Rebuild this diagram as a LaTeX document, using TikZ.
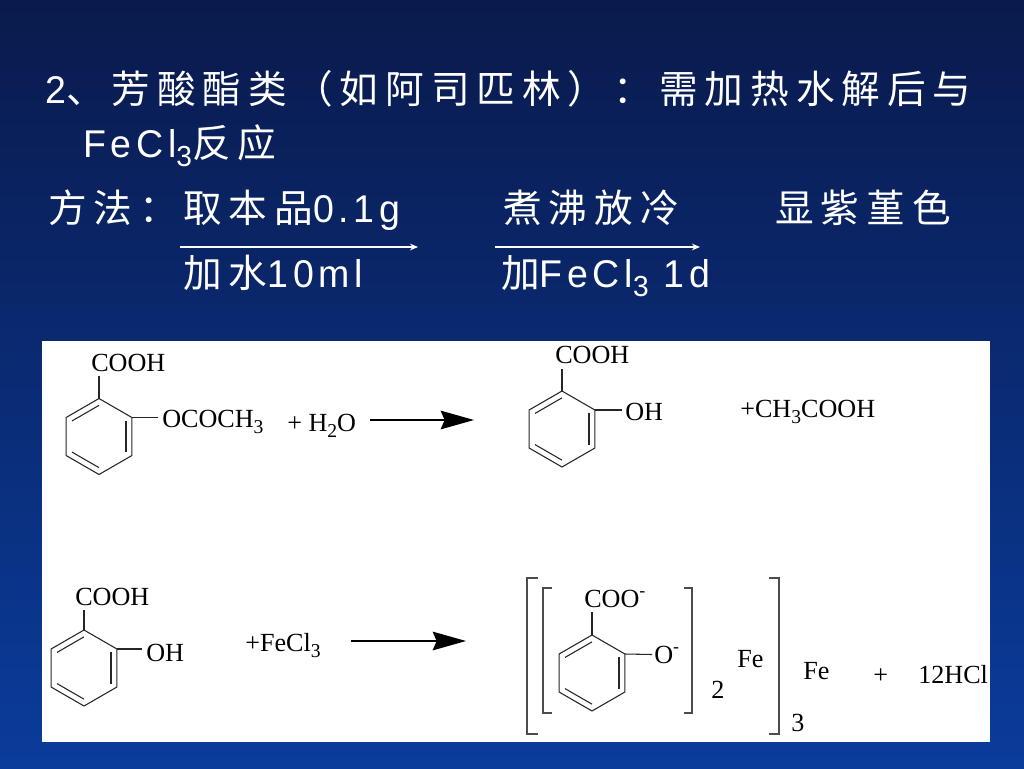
\documentclass[tikz,border=0pt]{standalone}
\usepackage{fontspec}
\usepackage{tikz}
\usetikzlibrary{arrows.meta,calc}
\setmainfont{Liberation Serif}
\newfontfamily\cjk{Noto Sans CJK SC}[LetterSpace=18]
\newfontfamily\cjktight{Noto Sans CJK SC}
\newfontfamily\latn{Liberation Sans}[FakeStretch=0.97,LetterSpace=12]
\definecolor{bgtop}{HTML}{0A1A4C}
\definecolor{bgbot}{HTML}{0A3C9C}
\newcommand{\dn}[1]{\raisebox{-.24em}{\scalebox{.75}{#1}}}
\newcommand{\upp}[1]{\raisebox{.42em}{\scalebox{.68}{#1}}}
% one benzene ring, top corner first
\newcommand{\ring}[3]{%
  \coordinate (#1) at (#2,#3);
  \foreach \i in {1,...,6} {
    \coordinate (#1-\i) at ({#2+38*cos(-150+60*\i)},{#3+38*sin(-150+60*\i)});
  }
  \draw[bond] (#1-1) -- (#1-2) -- (#1-3) -- (#1-4) -- (#1-5) -- (#1-6) -- cycle;
  \draw[bond] ($(#1)!.82!(#1-2)$) -- ($(#1)!.82!(#1-3)$);
  \draw[bond] ($(#1)!.82!(#1-4)$) -- ($(#1)!.82!(#1-5)$);
  \draw[bond] ($(#1)!.82!(#1-6)$) -- ($(#1)!.82!(#1-1)$);
}

\begin{document}
\begin{tikzpicture}[x=0.75pt, y=-0.75pt,
    title/.style={anchor=base west, inner sep=0pt, text=white, font=\fontsize{29}{32}\selectfont\cjk},
    chem/.style={anchor=base west, inner sep=0pt, text=black, font=\fontsize{19.6}{22}\selectfont},
    bond/.style={line width=0.8pt, black!85},
    brak/.style={line width=0.9pt, black!70},
    rxn/.style={line width=1pt, black, -{Stealth[length=25pt,width=14pt,inset=3pt]}},
    thin arrow/.style={line width=0.8pt, white, -{Stealth[length=6pt,width=5pt]}}]
  % background
  \shade[top color=bgtop, bottom color=bgbot] (0,0) rectangle (1024,768);
  \fill[white] (42,341) rectangle (990,742);
  \useasboundingbox (0,0) rectangle (1024,768);

  % title lines
  \node[title] (line1a) at (45,103) {{\latn 2}、芳酸酯类（如阿司匹林）：需加热水解后与};
  \node[title] (line2a) at (83,157) {{\latn FeCl\dn{3}}反应};
  \node[title] (method) at (48,222) {方法：};
  \node[title] (step1) at (183,222) {取本品{\latn 0.1g}};
  \node[title] (step2) at (503,222) {煮沸放冷};
  \node[title] (result) at (775,222) {显紫堇色};
  \node[title] (under1) at (183,287) {加水{\latn 10ml}};
  \node[title] (under2) at (501,287) {{\cjktight 加}{\latn FeCl\dn{3} 1d}};

  % arrows under the steps
  \coordinate (s1a) at (180,247);
  \coordinate (s1b) at (418,247);
  \coordinate (s2a) at (495,247);
  \coordinate (s2b) at (700,247);
  \draw[thin arrow] (s1a) -- (s1b);
  \draw[thin arrow] (s2a) -- (s2b);

  % aspirin
  \ring{aspirin}{99}{436.5}
  \node[chem] (aspcooh) at (91,371) {COOH};
  \node[chem] (aspoco) at (162,427) {OCOCH\dn{3}};
  \coordinate (aspup) at (99,376);
  \coordinate (aspside) at (158,417.5);
  \draw[bond] (aspirin-1) -- (aspup);
  \draw[bond] (aspirin-2) -- (aspside);
  \node[chem] (water) at (287,431) {+ H\dn{2}O};
  \coordinate (r1a) at (370,420);
  \coordinate (r1b) at (474,420);
  \draw[rxn] (r1a) -- (r1b);

  % salicylic acid, top
  \ring{sal}{562}{429}
  \node[chem] (salcooh) at (555,363) {COOH};
  \node[chem] (saloh) at (625,420) {OH};
  \coordinate (salup) at (562,369);
  \coordinate (salside) at (622,410);
  \draw[bond] (sal-1) -- (salup);
  \draw[bond] (sal-2) -- (salside);
  \node[chem] (acetic) at (740,417) {+CH\dn{3}COOH};

  % salicylic acid, bottom
  \ring{salb}{84}{668}
  \node[chem] (sbcooh) at (75,605) {COOH};
  \node[chem] (sboh) at (146,661) {OH};
  \coordinate (sbup) at (84,610);
  \coordinate (sbside) at (142,649);
  \draw[bond] (salb-1) -- (sbup);
  \draw[bond] (salb-2) -- (sbside);
  \node[chem] (fecl) at (245,651) {+FeCl\dn{3}};
  \coordinate (r2a) at (351,641);
  \coordinate (r2b) at (466,641);
  \draw[rxn] (r2a) -- (r2b);

  % complex
  \ring{cplx}{592}{673}
  \node[chem] (cpcoo) at (584,607) {COO\upp{-}};
  \node[chem] (cpo) at (654,663) {O\upp{-}};
  \coordinate (cpup) at (592,612);
  \coordinate (cpside) at (652,654.5);
  \draw[bond] (cplx-1) -- (cpup);
  \draw[bond] (cplx-2) -- (cpside);

  % brackets
  \draw[brak] (552,588) -| (543,713) -- (552,713);
  \draw[brak] (684,588) -| (692,713) -- (684,713);
  \draw[brak] (538,578) -| (527,734) -- (538,734);
  \draw[brak] (769,578) -| (779,734) -- (769,734);

  \node[chem] (two) at (711,698) {2};
  \node[chem] (fein) at (737,667) {Fe};
  \node[chem] (three) at (791,731) {3};
  \node[chem] (feout) at (803,679) {Fe};
  \node[chem] (plus) at (873,683) {+};
  \node[chem] (hcl) at (918,683) {12HCl};
\end{tikzpicture}
\end{document}
